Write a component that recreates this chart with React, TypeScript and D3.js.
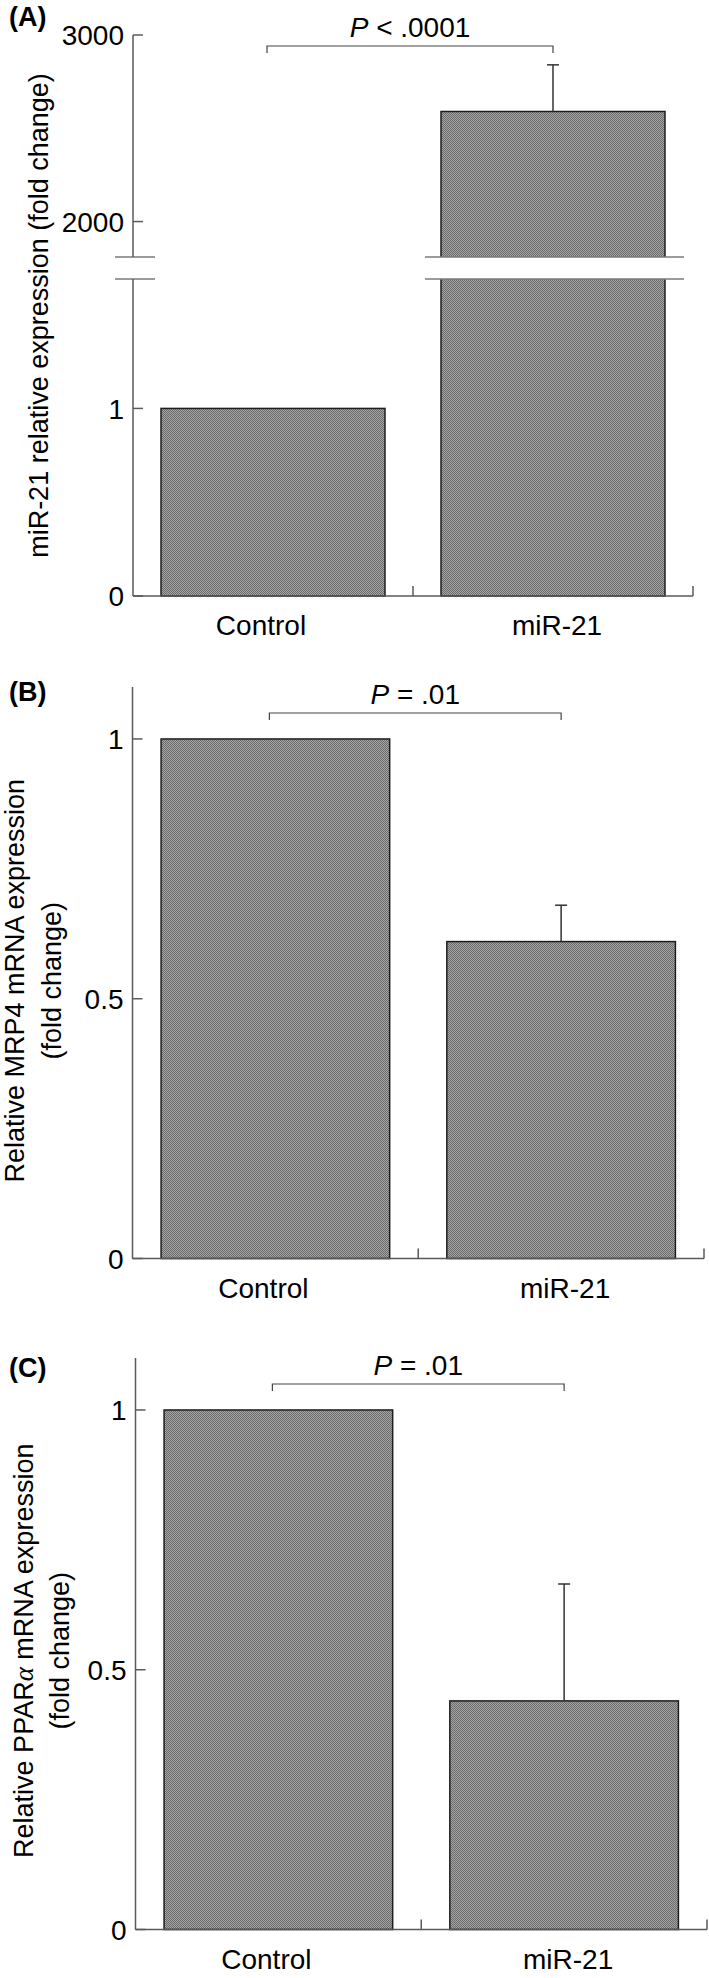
import React from 'react';
import * as d3 from 'd3';

const categories = ['Control', 'miR-21'];
const panelNames = ['(A)', '(B)', '(C)'];
const pLabels = ['< .0001', '= .01', '= .01'];

// (A) miR-21, broken axis
const mirValues = [1, 2590];
const mirErrors = [0, 250];
const mirLowTicks = [0, 1];
const mirHighTicks = [2000, 3000];

// (B) MRP4
const mrp4Values = [1, 0.61];
const mrp4Errors = [0, 0.07];

// (C) PPARa
const pparValues = [1, 0.44];
const pparErrors = [0, 0.225];

const relTicks = [0, 0.5, 1];

const W = 709;
const H = 1978;
const FONT = "'Liberation Sans', Arial, Helvetica, sans-serif";
const AXIS = '#5a5a5a';
const FS = 28;

const frames = [
  { left: 133, right: 693, top: 35, zero: 596, labelY: 26, bracketY: 46 },
  { left: 132.5, right: 704, top: 687, zero: 1258.5, labelY: 701, bracketY: 713 },
  { left: 135.5, right: 707, top: 1358, zero: 1929.5, labelY: 1377, bracketY: 1384 },
];

const labelShift = [-12, 4];

function Panel({ idx, values, errors, yOf, ticks, broken, title }) {
  const f = frames[idx];
  const x = d3.scaleBand().domain(categories).range([f.left, f.right]).paddingInner(0.2).paddingOuter(0.1);
  const step = x.step();
  const cx = (c) => x(c) + x.bandwidth() / 2;
  const segs = broken ? [[f.top, broken.hi], [broken.lo, f.zero]] : [[f.top, f.zero]];
  const bx0 = cx(categories[0]) - 6;
  const bx1 = cx(categories[1]);
  return (
    <g>
      {/* bars */}
      {categories.map((c, i) => (
        <rect key={c} x={x(c)} y={yOf(values[i])} width={x.bandwidth()} height={f.zero - yOf(values[i])}
          fill="url(#dither)" stroke="#1e1e1e" strokeWidth={1.5} />
      ))}
      {broken && (
        <g>
          <rect x={x(categories[1]) - 2} y={broken.hi} width={x.bandwidth() + 4} height={broken.lo - broken.hi} fill="#fff" />
          {[broken.hi, broken.lo].map((yy) => (
            <g key={yy}>
              <line x1={x(categories[1]) - 16} x2={x(categories[1]) + x.bandwidth() + 19} y1={yy} y2={yy} stroke="#7a7a7a" strokeWidth={1.5} />
              <line x1={f.left - 18} x2={f.left + 22} y1={yy} y2={yy} stroke="#7a7a7a" strokeWidth={1.5} />
            </g>
          ))}
        </g>
      )}
      {/* error bars */}
      {categories.map((c, i) => errors[i] > 0 && (
        <g key={c} stroke="#333" strokeWidth={1.5}>
          <line x1={cx(c)} x2={cx(c)} y1={yOf(values[i])} y2={yOf(values[i] + errors[i])} />
          <line x1={cx(c) - 6} x2={cx(c) + 6} y1={yOf(values[i] + errors[i])} y2={yOf(values[i] + errors[i])} />
        </g>
      ))}
      {/* y axis */}
      {segs.map(([a, b], k) => (
        <line key={k} x1={f.left} x2={f.left} y1={a} y2={b} stroke={AXIS} strokeWidth={1.5} />
      ))}
      {ticks.map((t) => (
        <g key={t.label}>
          <line x1={f.left} x2={f.left + 10} y1={yOf(t.v)} y2={yOf(t.v)} stroke={AXIS} strokeWidth={1.5} />
          <text x={f.left - 9} y={yOf(t.v)} dy="0.36em" textAnchor="end" fontSize={FS}>{t.label}</text>
        </g>
      ))}
      {/* x axis */}
      <line x1={f.left} x2={f.right} y1={f.zero} y2={f.zero} stroke={AXIS} strokeWidth={1.5} />
      {[f.left + step, f.right].map((xx) => (
        <line key={xx} x1={xx} x2={xx} y1={f.zero} y2={f.zero - 10} stroke={AXIS} strokeWidth={1.5} />
      ))}
      {categories.map((c, i) => (
        <text key={c} x={cx(c) + labelShift[i]} y={f.zero + 39} textAnchor="middle" fontSize={FS}>{c}</text>
      ))}
      {/* significance bracket */}
      <path d={`M${bx0},${f.bracketY + 7}V${f.bracketY}H${bx1}V${f.bracketY + 7}`} fill="none" stroke="#444" strokeWidth={1.2} />
      <text x={(bx0 + bx1) / 2} y={f.bracketY - 9} textAnchor="middle" fontSize={FS}>
        <tspan fontStyle="italic">P</tspan> {pLabels[idx]}
      </text>
      <text x={9} y={f.labelY} fontSize={27} fontWeight="bold">{panelNames[idx]}</text>
      {title}
    </g>
  );
}

export default function App() {
  // panel A scales: two segments around the break
  const fa = frames[0];
  const breakHi = 257;
  const breakLo = 279;
  const yLow = d3.scaleLinear().domain([0, 1.69]).range([fa.zero, breakLo]);
  const yHigh = d3.scaleLinear().domain([1810, 3000]).range([breakHi, fa.top]);
  const yA = (v) => (v <= 1.69 ? yLow(v) : yHigh(v));
  const ticksA = [...mirLowTicks, ...mirHighTicks].map((v) => ({ v, label: String(v) }));

  const fb = frames[1];
  const yB = d3.scaleLinear().domain([0, 1.1]).range([fb.zero, fb.top]);
  const fc = frames[2];
  const yC = d3.scaleLinear().domain([0, 1.1]).range([fc.zero, fc.top]);
  const relTickObjs = relTicks.map((v) => ({ v, label: String(v) }));

  const midA = (fa.top + fa.zero) / 2;
  const midB = (fb.top + fb.zero) / 2 + 8;
  const midC = (fc.top + fc.zero) / 2 + 7;

  return (
    <svg width={W} height={H} style={{ position: 'absolute', left: 0, top: 0, display: 'block', background: '#fff' }}
      fontFamily={FONT} fill="#000">
      <defs>
        <pattern id="dither" width={2} height={2} patternUnits="userSpaceOnUse">
          <rect width={2} height={2} fill="#a6a6a6" />
          <rect width={1} height={1} fill="#6a6a6a" />
          <rect x={1} y={1} width={1} height={1} fill="#6a6a6a" />
        </pattern>
      </defs>
      <rect width={W} height={H} fill="#fff" />
      <Panel idx={0} values={mirValues} errors={mirErrors} yOf={yA} ticks={ticksA}
        broken={{ hi: breakHi, lo: breakLo }}
        title={<text transform={`translate(48,${midA}) rotate(-90)`} textAnchor="middle" fontSize={27}>miR-21 relative expression (fold change)</text>} />
      <Panel idx={1} values={mrp4Values} errors={mrp4Errors} yOf={yB} ticks={relTickObjs}
        title={<g fontSize={27}>
          <text transform={`translate(24,${midB}) rotate(-90)`} textAnchor="middle">Relative MRP4 mRNA expression</text>
          <text transform={`translate(61,${midB}) rotate(-90)`} textAnchor="middle">(fold change)</text>
        </g>} />
      <Panel idx={2} values={pparValues} errors={pparErrors} yOf={yC} ticks={relTickObjs}
        title={<g fontSize={27}>
          <text transform={`translate(33,${midC}) rotate(-90)`} textAnchor="middle">Relative PPAR<tspan fontStyle="italic" fontFamily="'Liberation Serif', serif">α</tspan> mRNA expression</text>
          <text transform={`translate(69,${midC}) rotate(-90)`} textAnchor="middle">(fold change)</text>
        </g>} />
    </svg>
  );
}
